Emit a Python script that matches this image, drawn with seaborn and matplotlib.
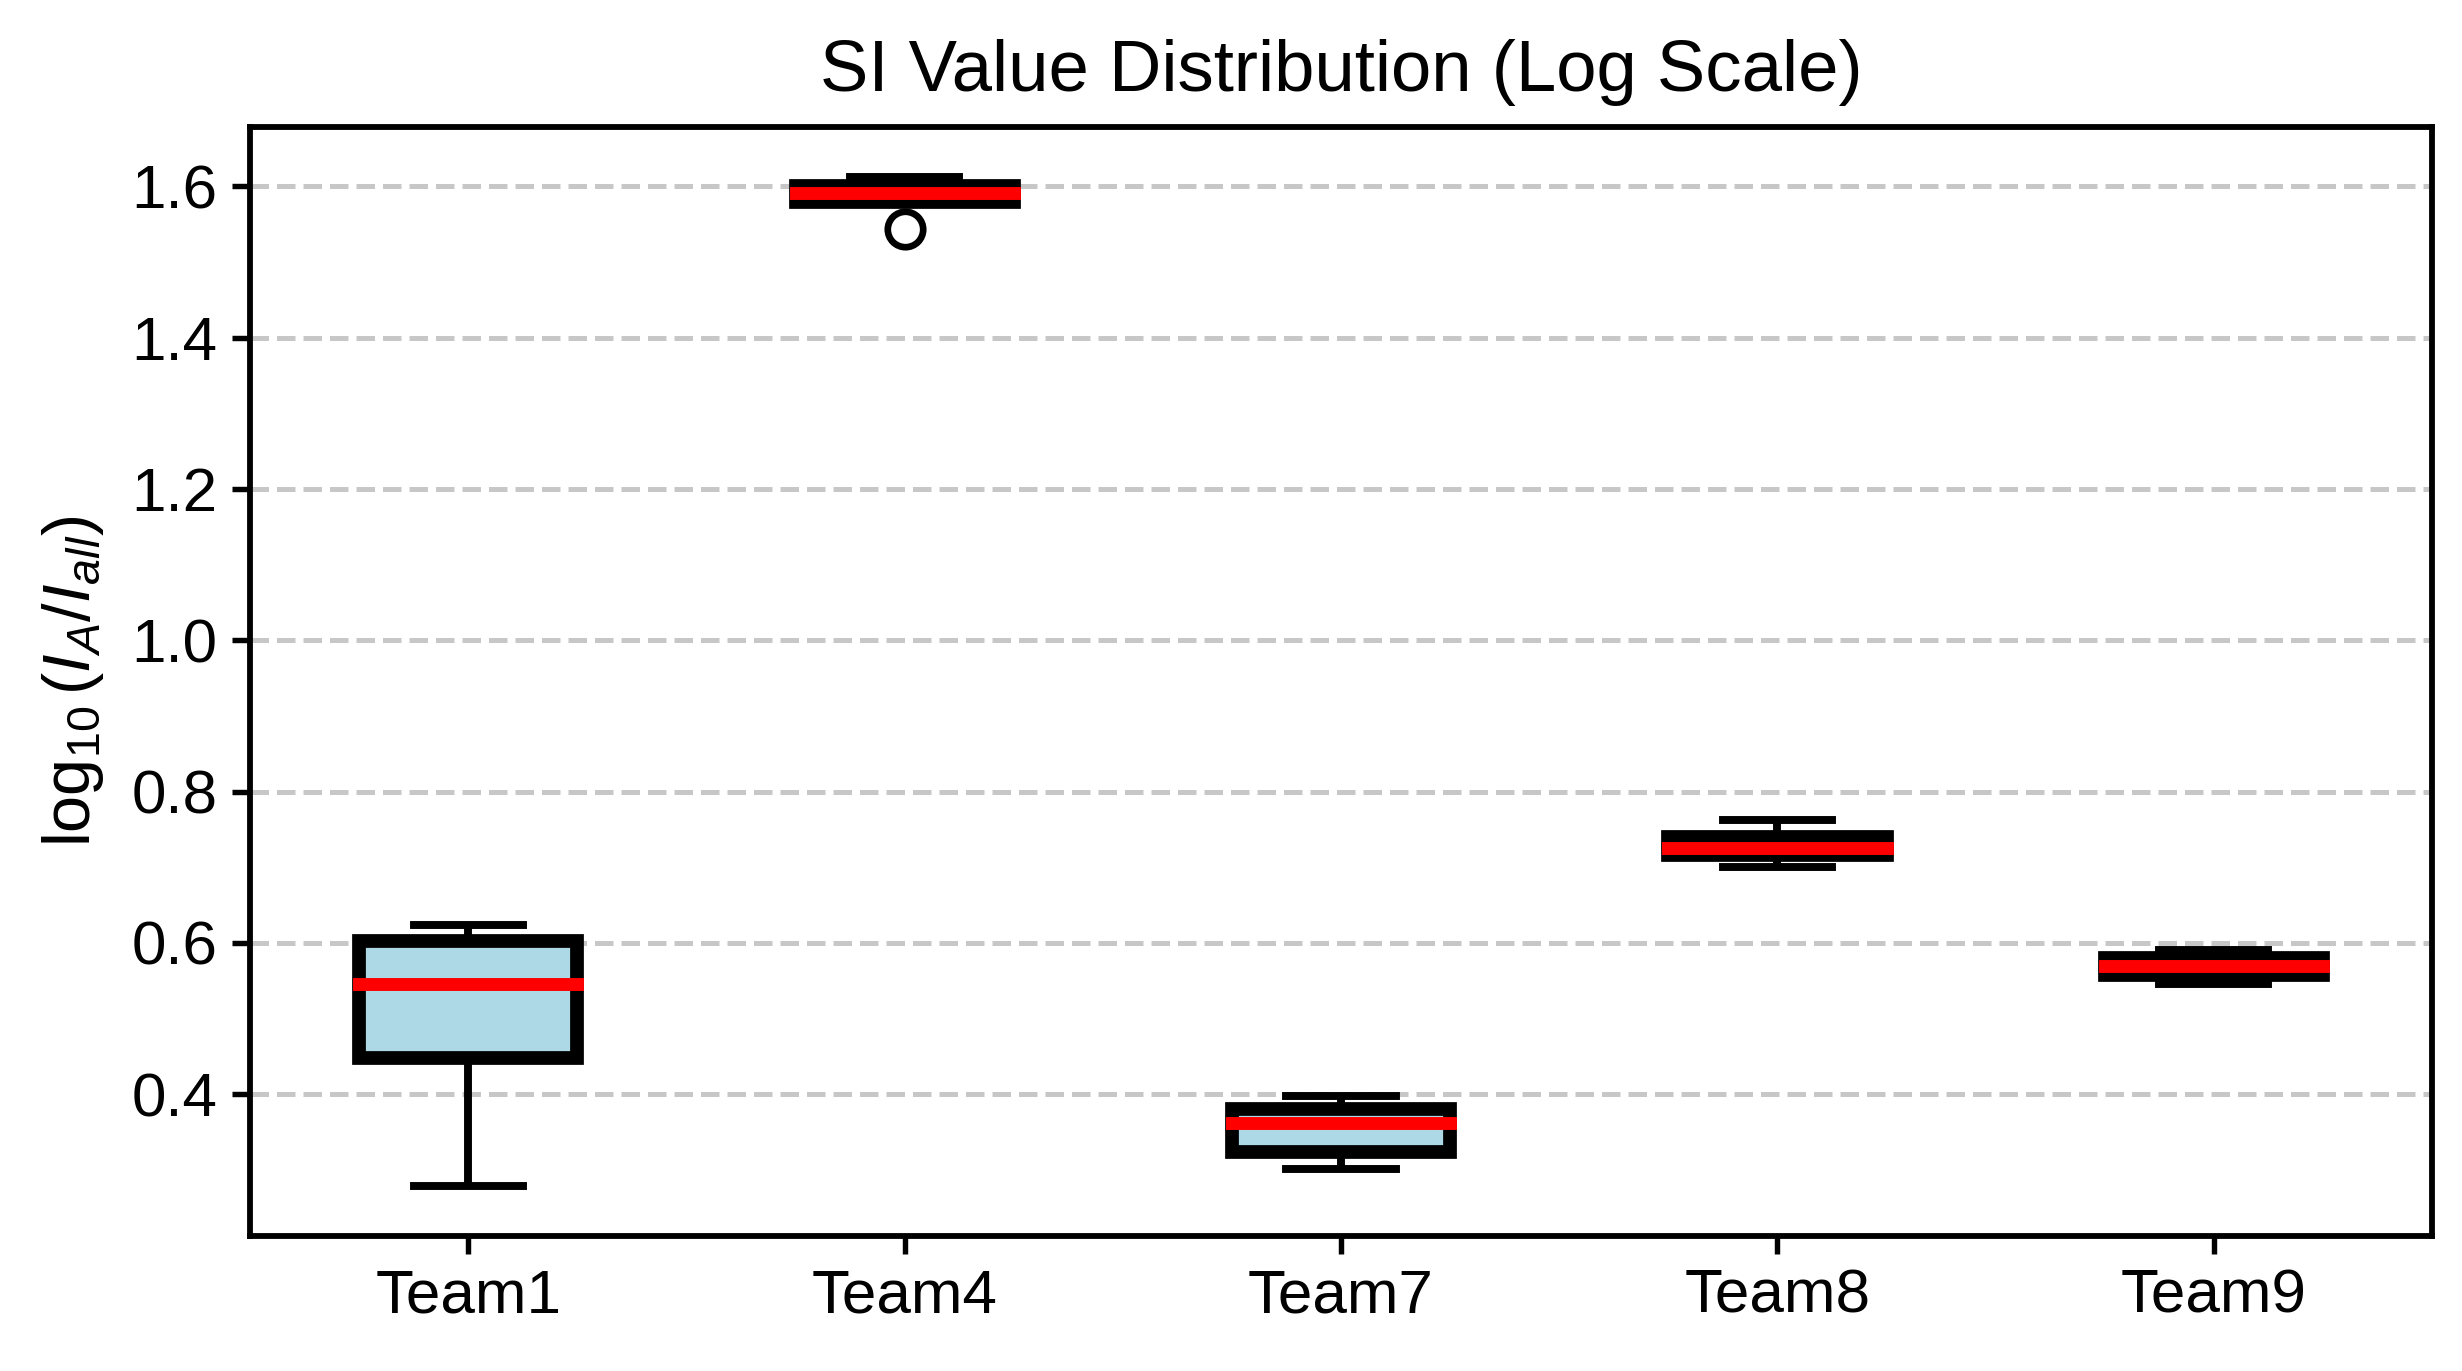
import matplotlib
matplotlib.use("Agg")
import matplotlib.pyplot as plt
import numpy as np
import pandas as pd
import seaborn as sns

# ---- data ----
teams = ["Team1", "Team4", "Team7", "Team8", "Team9"]
team1 = [0.279, 0.448, 0.545, 0.602, 0.624]
team4 = [1.5435, 1.580, 1.591, 1.601, 1.612]
team7 = [0.3015, 0.3237, 0.3623, 0.380, 0.398]
team8 = [0.6996, 0.716, 0.7247, 0.740, 0.763]
team9 = [0.5455, 0.557, 0.5687, 0.580, 0.590]

title = "SI Value Distribution (Log Scale)"
ylabel = r"$\log_{10}(I_A/I_{all})$"

values = [team1, team4, team7, team8, team9]
df = pd.DataFrame({
    "team": [t for t, v in zip(teams, values) for _ in v],
    "value": [x for v in values for x in v],
})

plt.rcParams["font.family"] = ["Liberation Sans", "DejaVu Sans"]
plt.rcParams["mathtext.fontset"] = "custom"
plt.rcParams["mathtext.rm"] = "Liberation Sans"
plt.rcParams["mathtext.it"] = "Liberation Sans:italic"
plt.rcParams["mathtext.bf"] = "Liberation Sans:bold"

W, H, DPI = 2462, 1371, 300
fig = plt.figure(figsize=(W / DPI, H / DPI), dpi=DPI)
ax = fig.add_axes([250 / W, 1 - 1236 / H, 2182 / W, 1109 / H])

sns.boxplot(
    data=df, x="team", y="value", order=teams, ax=ax,
    width=0.5, color="lightblue", saturation=1, linecolor="black",
    boxprops=dict(facecolor="lightblue", edgecolor="black", linewidth=3.3),
    medianprops=dict(color="red", linewidth=3.1, solid_capstyle="projecting"),
    whiskerprops=dict(color="black", linewidth=1.9),
    capprops=dict(color="black", linewidth=1.9, solid_capstyle="projecting"),
    flierprops=dict(marker="o", markerfacecolor="none", markeredgecolor="black",
                    markersize=8.5, markeredgewidth=1.6),
)

ax.yaxis.grid(True, linestyle="--", linewidth=1.2, color="#b0b0b0", alpha=0.7)
ax.xaxis.grid(False)
ax.set_axisbelow(True)

for s in ax.spines.values():
    s.set_linewidth(1.4)
    s.set_color("black")
    s.set_visible(True)

ax.tick_params(axis="both", length=4.3, width=1.3, labelsize=14.9, colors="black")
ax.set_xlabel("")
ax.set_ylabel(ylabel, fontsize=16, labelpad=6)
ax.set_title(title, fontsize=17.4, pad=8.6)

fig.savefig("out.png", dpi=DPI)
